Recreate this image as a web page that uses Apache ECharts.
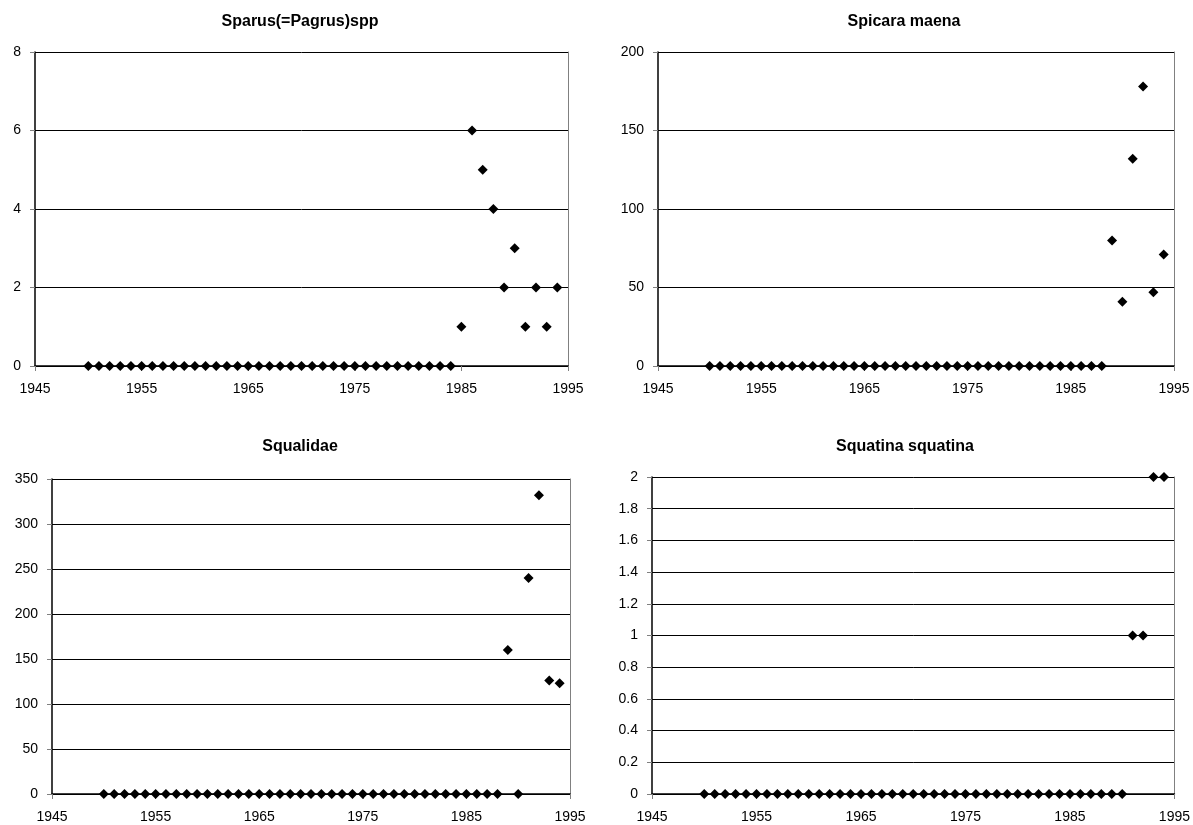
<!DOCTYPE html>
<html lang="en">
  <head>
    <meta charset="UTF-8" />
    <title>Catch series</title>
    <script src="https://cdn.jsdelivr.net/npm/echarts@6/dist/echarts.min.js"></script>
    <style>
      body { margin: 0; background: #fff; }
    </style>
  </head>
  <body>
    <div id="main" style="width: 1193px; height: 825px"></div>
    <script type="text/javascript">
      // years on the x axis
      const years = [
        1950, 1951, 1952, 1953, 1954, 1955, 1956, 1957, 1958, 1959,
        1960, 1961, 1962, 1963, 1964, 1965, 1966, 1967, 1968, 1969,
        1970, 1971, 1972, 1973, 1974, 1975, 1976, 1977, 1978, 1979,
        1980, 1981, 1982, 1983, 1984, 1985, 1986, 1987, 1988, 1989,
        1990, 1991, 1992, 1993, 1994,
      ];
      const titles = ["Sparus(=Pagrus)spp", "Spicara maena", "Squalidae", "Squatina squatina"];

      const sparus = [
        0, 0, 0, 0, 0, 0, 0, 0, 0, 0,
        0, 0, 0, 0, 0, 0, 0, 0, 0, 0,
        0, 0, 0, 0, 0, 0, 0, 0, 0, 0,
        0, 0, 0, 0, 0, 1, 6, 5, 4, 2,
        3, 1, 2, 1, 2,
      ];
      const spicara = [
        0, 0, 0, 0, 0, 0, 0, 0, 0, 0,
        0, 0, 0, 0, 0, 0, 0, 0, 0, 0,
        0, 0, 0, 0, 0, 0, 0, 0, 0, 0,
        0, 0, 0, 0, 0, 0, 0, 0, 0, 80,
        41, 132, 178, 47, 71,
      ];
      const squalidae = [
        0, 0, 0, 0, 0, 0, 0, 0, 0, 0,
        0, 0, 0, 0, 0, 0, 0, 0, 0, 0,
        0, 0, 0, 0, 0, 0, 0, 0, 0, 0,
        0, 0, 0, 0, 0, 0, 0, 0, 0, 160,
        0, 240, 332, 126, 123,
      ];
      const squatina = [
        0, 0, 0, 0, 0, 0, 0, 0, 0, 0,
        0, 0, 0, 0, 0, 0, 0, 0, 0, 0,
        0, 0, 0, 0, 0, 0, 0, 0, 0, 0,
        0, 0, 0, 0, 0, 0, 0, 0, 0, 0,
        0, 1, 1, 2, 2,
      ];

      // y axis ranges per panel
      const yMax = [8, 200, 350, 2];
      const yStep = [2, 50, 50, 0.2];
      const xTicks = { min: 1945, max: 1995, interval: 10 };

      const allSeries = [sparus, spicara, squalidae, squatina];

      // plot areas (left, top, width, height) and title centres
      const grids = [
        { left: 35, top: 52, width: 533, height: 314 },
        { left: 658, top: 52, width: 516, height: 314 },
        { left: 52, top: 479, width: 518, height: 315 },
        { left: 652, top: 477, width: 524, height: 317 },
      ];
      const titlePos = [
        { x: 300, y: 14 },
        { x: 904, y: 14 },
        { x: 300, y: 439 },
        { x: 905, y: 439 },
      ];

      const font = "Liberation Sans, Arial, sans-serif";

      let options = {
        animation: false,
        backgroundColor: "#fff",
        title: [],
        grid: [],
        xAxis: [],
        yAxis: [],
        series: [],
      };

      for (let i = 0; i < 4; i++) {
        options.title.push({
          text: titles[i],
          left: titlePos[i].x,
          top: titlePos[i].y,
          textAlign: "center",
          padding: 0,
          textStyle: { fontFamily: font, fontSize: 16, fontWeight: "bold", color: "#000" },
        });
        options.grid.push(grids[i]);
        options.xAxis.push({
          type: "value",
          gridIndex: i,
          min: xTicks.min,
          max: xTicks.max,
          interval: xTicks.interval,
          axisLine: { onZero: false, lineStyle: { color: "#000", width: 1.5 } },
          axisTick: { show: true, length: 5, lineStyle: { color: "#808080" } },
          axisLabel: {
            fontFamily: font,
            fontSize: 14,
            color: "#000",
            margin: 16,
            formatter: (v) => String(v),
          },
          splitLine: { show: false },
        });
        // main y axis
        options.yAxis.push({
          type: "value",
          gridIndex: i,
          min: 0,
          max: yMax[i],
          interval: yStep[i],
          axisLine: { show: true, lineStyle: { color: "#000", width: 1.5 } },
          axisTick: { show: true, length: 5, lineStyle: { color: "#808080" } },
          axisLabel: { fontFamily: font, fontSize: 14, color: "#000", margin: 14 },
          splitLine: { show: true, lineStyle: { color: "#000", width: 1 } },
        });
        // right-hand border of the plot area
        options.yAxis.push({
          type: "value",
          gridIndex: i,
          position: "right",
          min: 0,
          max: yMax[i],
          axisLine: { show: true, lineStyle: { color: "#808080", width: 1 } },
          axisTick: { show: false },
          axisLabel: { show: false },
          splitLine: { show: false },
        });
        options.series.push({
          type: "scatter",
          xAxisIndex: i,
          yAxisIndex: i * 2,
          symbol: "diamond",
          symbolSize: 10,
          itemStyle: { color: "#000", opacity: 1 },
          data: years.map((y, k) => [y, allSeries[i][k]]),
        });
      }

      let myChart = echarts.init(document.getElementById("main"));
      myChart.setOption(options);
    </script>
  </body>
</html>
